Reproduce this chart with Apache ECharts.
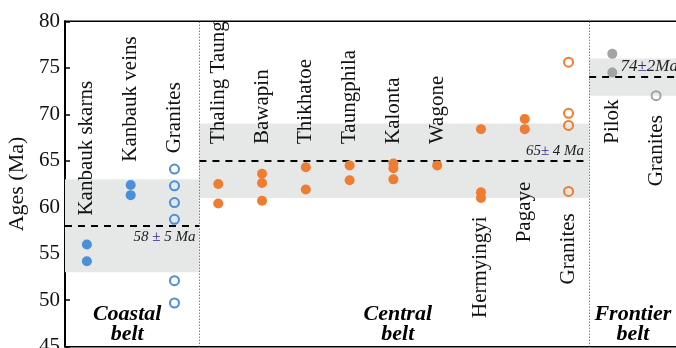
<!DOCTYPE html>
<html>
<head>
<meta charset="utf-8">
<script src="https://cdn.jsdelivr.net/npm/echarts@6/dist/echarts.min.js"></script>
<style>html,body{margin:0;padding:0;background:#fff}#c{width:676px;height:348px}</style>
</head>
<body>
<div id="c"></div>
<script>
// ---- data ----
const categories = ['Kanbauk skarns','Kanbauk veins','Granites','Thaling Taung','Bawapin','Thikhatoe','Taungphila','Kalonta','Wagone','Hermyingyi','Pagaye','Granites','Pilok','Granites'];
const kanbaukSkarns = [56.0, 54.2];
const kanbaukVeins = [62.4, 61.3];
const coastalGranites = [64.1, 62.3, 60.5, 58.7, 52.1, 49.7];
const thalingTaung = [62.5, 60.4];
const bawapin = [63.6, 62.6, 60.7];
const thikhatoe = [64.3, 61.9];
const taungphila = [64.5, 62.9];
const kalonta = [64.7, 64.2, 63.0];
const wagone = [64.5];
const hermyingyi = [68.4, 61.6, 61.0];
const pagaye = [69.5, 68.4];
const centralGranites = [75.6, 70.1, 68.8, 61.7];
const pilok = [76.5, 74.5];
const frontierGranites = [72.0];
const categoryValues = [kanbaukSkarns, kanbaukVeins, coastalGranites, thalingTaung, bawapin, thikhatoe, taungphila, kalonta, wagone, hermyingyi, pagaye, centralGranites, pilok, frontierGranites];
const categoryBelt = [0,0,0,1,1,1,1,1,1,1,1,1,2,2];
const categoryOpen = [false,false,true,false,false,false,false,false,false,false,false,true,false,true];
const beltNames = ['Coastal\nbelt','Central\nbelt','Frontier\nbelt'];
const beltMean = [58, 65, 74];
const beltErr = [5, 4, 2];
const yTicks = [45, 50, 55, 60, 65, 70, 75, 80];

// ---- layout / style ----
const beltColors = ['#4a8fd8', '#ee7d31', '#a3a3a3'];
const beltBounds = [-0.5, 2.57, 11.47, 13.5];
const beltLabelX = [0.92, 7.1, 12.47];
const beltLabelY = 47.4;
const labelAnchor = [59.1, 64.9, 65.8, 66.8, 66.8, 66.8, 66.8, 66.8, 66.8, 59.0, 62.75, 59.35, 71.6, 69.9];
const labelUp = [true,true,true,true,true,true,true,true,true,false,false,false,false,false];
const serif = '"Liberation Serif","Times New Roman",serif';

const series = [];
// points
for (let b = 0; b < 3; b++) {
  for (const open of [false, true]) {
    const data = [];
    categoryValues.forEach((vals, i) => {
      if (categoryBelt[i] === b && categoryOpen[i] === open) vals.forEach(v => data.push([i, v]));
    });
    if (!data.length) continue;
    series.push({
      type: 'scatter', z: 5, data,
      symbol: 'circle',
      symbolSize: open ? 9 : 10,
      itemStyle: open ? { color: 'rgba(0,0,0,0)', borderColor: beltColors[b], borderWidth: 2, opacity: 1 }
                      : { color: beltColors[b], opacity: 1 },
      emphasis: { disabled: true }
    });
  }
}
// bands, mean lines, separators
const pm = '±';
const meanLabels = ['{t|58 }{p|' + pm + '}{t| 5 Ma}', '{t|65}{p|' + pm + '}{t| 4 Ma}', '{u|74}{q|' + pm + '}{u|2Ma}'];
const richTxt = {
  t: { fontFamily: serif, fontStyle: 'italic', fontSize: 15, color: '#222' },
  p: { fontFamily: serif, fontSize: 15, color: '#2a2a80' },
  u: { fontFamily: serif, fontStyle: 'italic', fontSize: 17, color: '#222' },
  q: { fontFamily: serif, fontSize: 17, color: '#2a2a80' }
};
series.push({
  type: 'scatter', data: [], z: 1, silent: true,
  markArea: {
    silent: true,
    itemStyle: { color: '#e5e8e7' },
    data: [0,1,2].map(b => [{ coord: [beltBounds[b], beltMean[b] - beltErr[b]] }, { coord: [beltBounds[b+1], beltMean[b] + beltErr[b]] }])
  },
  markLine: {
    silent: true, symbol: ['none','none'], animation: false,
    data: [0,1,2].map(b => [
      { coord: [beltBounds[b], beltMean[b]],
        lineStyle: { color: '#000', width: 2, type: [7, 6] },
        label: { show: true, position: b === 0 ? 'insideEndBottom' : 'insideEndTop', distance: b === 0 ? [4, 4] : [b === 2 ? 0 : 5, 2], formatter: meanLabels[b], rich: richTxt } },
      { coord: [beltBounds[b+1], beltMean[b]] }
    ]).concat([1,2].map(b => [
      { coord: [beltBounds[b], 45], lineStyle: { color: '#444', width: 1, type: [1, 2] }, label: { show: false } },
      { coord: [beltBounds[b], 80] }
    ]))
  }
});
// category labels
series.push({
  type: 'custom', z: 4, silent: true, clip: false,
  data: categories.map((c, i) => [i, labelAnchor[i]]),
  renderItem: (params, api) => {
    const i = params.dataIndex;
    const p = api.coord([api.value(0), api.value(1)]);
    return { type: 'text', x: p[0], y: p[1], rotation: Math.PI / 2,
      style: { text: categories[i], fontFamily: serif, fontSize: 21, fill: '#111', align: labelUp[i] ? 'left' : 'right', verticalAlign: 'middle' } };
  }
});
// belt labels
series.push({
  type: 'custom', z: 4, silent: true, clip: false,
  data: beltNames.map((n, b) => [beltLabelX[b], beltLabelY]),
  renderItem: (params, api) => {
    const p = api.coord([api.value(0), api.value(1)]);
    return { type: 'text', x: p[0], y: p[1],
      style: { text: beltNames[params.dataIndex], fontFamily: serif, fontStyle: 'italic', fontWeight: 'bold', fontSize: 22, lineHeight: 20, fill: '#000', align: 'center', verticalAlign: 'middle' } };
  }
});

const chart = echarts.init(document.getElementById('c'), null, { renderer: 'canvas' });
chart.setOption({
  animation: false,
  grid: { left: 65, right: -2, top: 21.3, bottom: 1.3, show: true, borderColor: '#000', borderWidth: 1.5, backgroundColor: 'transparent', outerBoundsMode: 'none', containLabel: false },
  xAxis: { type: 'value', min: -0.5, max: 13.5, show: false },
  yAxis: {
    type: 'value', min: yTicks[0], max: yTicks[yTicks.length - 1], interval: 5,
    name: 'Ages (Ma)', nameLocation: 'middle', nameGap: 36,
    nameTextStyle: { fontFamily: serif, fontSize: 22, color: '#111' },
    axisLine: { show: true, onZero: false, lineStyle: { color: '#000', width: 2 } },
    axisTick: { show: true, inside: true, length: 5, lineStyle: { color: '#000', width: 1.5 } },
    axisLabel: { fontFamily: serif, fontSize: 21, color: '#111', margin: 5 },
    splitLine: { show: false }
  },
  series
});
</script>
</body>
</html>
